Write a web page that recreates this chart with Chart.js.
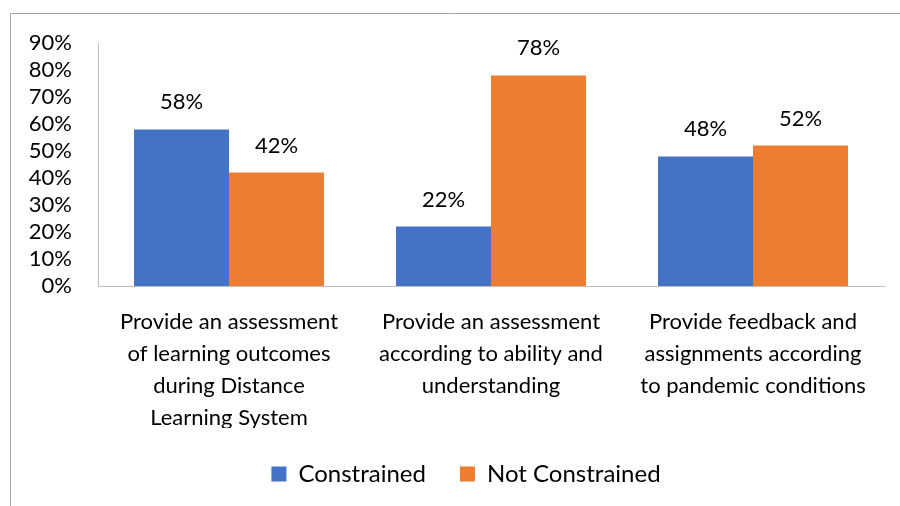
<!DOCTYPE html>
<html>
<head>
<meta charset="utf-8">
<script src="https://cdn.jsdelivr.net/npm/chart.js@4"></script>
<style>
  html, body { margin: 0; padding: 0; background: #fff; }
  #wrap { width: 900px; height: 506px; position: relative; }
</style>
</head>
<body>
<div id="wrap"><canvas id="myChart" width="900" height="506"></canvas></div>
<script>
const categories = [
    ["Provide an assessment", "of learning outcomes", "during Distance", "Learning System"],
    ["Provide an assessment", "according to ability and", "understanding"],
    ["Provide feedback and", "assignments according", "to pandemic conditions"]
];
const constrained = [58, 22, 48];
const notConstrained = [42, 78, 52];
const seriesNames = ["Constrained", "Not Constrained"];
const yTicks = [0, 10, 20, 30, 40, 50, 60, 70, 80, 90];

const FONT = "Lato, 'Open Sans', sans-serif";

// frame around the chart (only top and left edges show in the picture)
const framePlugin = {
    id: 'frame',
    beforeDraw(chart) {
        // legend sits a bit right of centre in the original
        if (chart.legend) {
            chart.legend.left += 24;
            chart.legend.right += 24;
        }
        const ctx = chart.ctx;
        ctx.save();
        ctx.strokeStyle = '#a6a6a6';
        ctx.lineWidth = 1;
        ctx.beginPath();
        ctx.moveTo(10.5, chart.height);
        ctx.lineTo(10.5, 13.5);
        ctx.lineTo(chart.width, 13.5);
        ctx.stroke();
        ctx.restore();
    }
};

// value labels above the bars
const valueLabels = {
    id: 'valueLabels',
    afterDatasetsDraw(chart) {
        const ctx = chart.ctx;
        ctx.save();
        ctx.font = "22px " + FONT;
        ctx.fillStyle = '#000';
        ctx.textAlign = 'center';
        ctx.textBaseline = 'middle';
        chart.data.datasets.forEach((ds, i) => {
            chart.getDatasetMeta(i).data.forEach((bar, j) => {
                ctx.fillText(ds.data[j] + '%', bar.x, bar.y - 27);
            });
        });
        ctx.restore();
    }
};

const myChart = document.getElementById("myChart").getContext('2d');

const statsChart = new Chart(myChart, {
    type: 'bar',
    data: {
        labels: categories,
        datasets: [{
            label: seriesNames[0],
            data: constrained,
            backgroundColor: '#4472C4'
        }, {
            label: seriesNames[1],
            data: notConstrained,
            backgroundColor: '#ED7D31'
        }]
    },
    options: {
        responsive: false,
        animation: false,
        layout: { padding: { top: 43, right: 16, bottom: 10, left: 0 } },
        datasets: {
            bar: { categoryPercentage: 0.725, barPercentage: 1.0 }
        },
        scales: {
            x: {
                grid: { display: false, drawTicks: false },
                border: { display: true, color: '#bfbfbf', width: 1 },
                ticks: {
                    color: '#000',
                    font: { family: FONT, size: 22, lineHeight: 1.45 },
                    padding: 20,
                    maxRotation: 0,
                    autoSkip: false
                },
                afterFit(scale) { scale.height = 142; }
            },
            y: {
                min: 0,
                max: 90,
                grid: { display: false, drawTicks: false },
                border: { display: true, color: '#bfbfbf', width: 1 },
                afterBuildTicks(scale) {
                    scale.ticks = yTicks.map(v => ({ value: v }));
                },
                ticks: {
                    color: '#000',
                    font: { family: FONT, size: 22 },
                    padding: 26,
                    autoSkip: false,
                    callback: v => v + '%'
                },
                afterFit(scale) { scale.width = 98; }
            }
        },
        plugins: {
            legend: {
                position: 'bottom',
                labels: {
                    color: '#000',
                    font: { family: FONT, size: 24 },
                    boxWidth: 15,
                    boxHeight: 15,
                    padding: 34
                }
            },
            tooltip: { enabled: false }
        }
    },
    plugins: [framePlugin, valueLabels]
});
</script>
</body>
</html>
